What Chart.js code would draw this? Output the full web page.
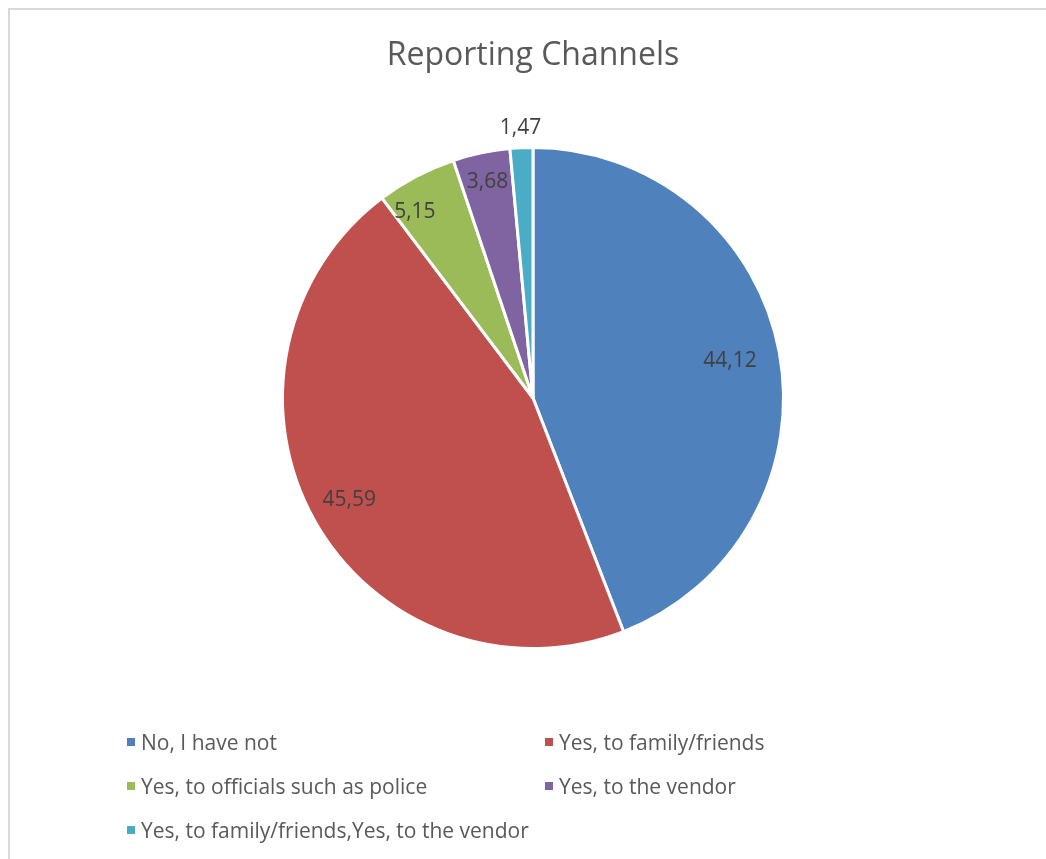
<!DOCTYPE html>
<html>
<head>
<meta charset="utf-8">
<script src="https://cdn.jsdelivr.net/npm/chart.js@4/dist/chart.umd.min.js"></script>
<style>
  html, body { margin: 0; padding: 0; background: #fff; }
  #wrap { position: relative; width: 1046px; height: 859px; overflow: hidden; }
  #frame { position: absolute; left: 8px; top: 8px; width: 1100px; height: 900px;
           border-left: 2px solid #d9d9d9; border-top: 2px solid #d9d9d9; box-sizing: border-box; pointer-events: none; }
  canvas { position: absolute; left: 0; top: 0; }
</style>
</head>
<body>
<div id="wrap">
  <canvas id="c" width="1046" height="859"></canvas>
  <div id="frame"></div>
</div>
<script>
const categories = [
  'No, I have not',
  'Yes, to family/friends',
  'Yes, to officials such as police',
  'Yes, to the vendor',
  'Yes, to family/friends,Yes, to the vendor'
];
const shares = [44.12, 45.59, 5.15, 3.68, 1.47];
const sliceColors = ['#4F81BD', '#C0504D', '#9BBB59', '#8064A2', '#4BACC6'];

const FONT = '"Open Sans", "Noto Sans", sans-serif';

// Value labels: radial distance (fraction of outer radius) and angular nudge (degrees)
const labelPlacement = [
  { r: 0.80, da: 0 },
  { r: 0.84, da: 0 },
  { r: 0.88, da: -4.6 },
  { r: 0.88, da: 0 },
  { r: 1.08, da: 0 }
];

const valueLabels = {
  id: 'valueLabels',
  afterDatasetsDraw(chart) {
    const ctx = chart.ctx;
    const meta = chart.getDatasetMeta(0);
    ctx.save();
    ctx.font = '21px ' + FONT;
    ctx.fillStyle = '#404040';
    ctx.textAlign = 'center';
    ctx.textBaseline = 'middle';
    meta.data.forEach((arc, i) => {
      const p = arc.getProps(['x', 'y', 'startAngle', 'endAngle', 'outerRadius'], true);
      const mid = (p.startAngle + p.endAngle) / 2 + labelPlacement[i].da * Math.PI / 180;
      const d = p.outerRadius * labelPlacement[i].r;
      const txt = shares[i].toFixed(2).replace('.', ',');
      ctx.fillText(txt, p.x + Math.cos(mid) * d, p.y + Math.sin(mid) * d);
    });
    ctx.restore();
  }
};

// Two-column legend under the pie
const gridLegend = {
  id: 'gridLegend',
  afterDraw(chart) {
    const ctx = chart.ctx;
    const cols = [127, 545];
    const rows = [742, 786, 830];
    ctx.save();
    ctx.font = '21px ' + FONT;
    ctx.textBaseline = 'middle';
    ctx.textAlign = 'left';
    chart.data.labels.forEach((lab, i) => {
      const x = cols[i % 2];
      const y = rows[Math.floor(i / 2)];
      ctx.fillStyle = chart.data.datasets[0].backgroundColor[i];
      ctx.fillRect(x, y - 4, 8, 8);
      ctx.fillStyle = '#595959';
      ctx.fillText(lab, x + 14, y + 2);
    });
    ctx.restore();
  }
};

new Chart(document.getElementById('c'), {
  type: 'pie',
  data: {
    labels: categories,
    datasets: [{
      data: shares,
      backgroundColor: sliceColors,
      borderColor: '#ffffff',
      borderWidth: 3
    }]
  },
  options: {
    responsive: false,
    animation: false,
    layout: { padding: { top: 0, bottom: 209, left: 30, right: 10 } },
    plugins: {
      legend: { display: false },
      tooltip: { enabled: false },
      title: {
        display: true,
        text: 'Reporting Channels',
        color: '#595959',
        font: { family: FONT, size: 32, weight: 'normal', lineHeight: 1.2 },
        padding: { top: 37, bottom: 70.6 }
      }
    }
  },
  plugins: [valueLabels, gridLegend]
});
</script>
</body>
</html>
